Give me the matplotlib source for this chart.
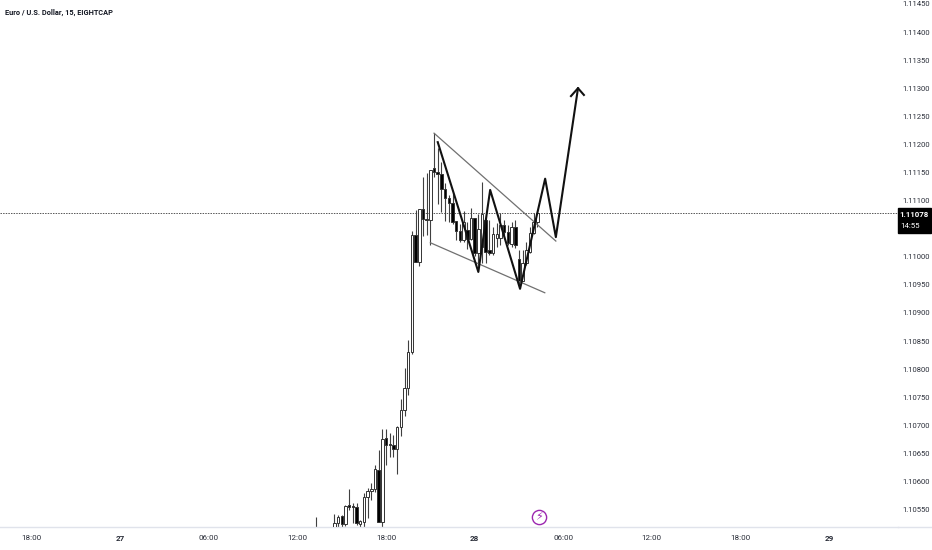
import matplotlib
matplotlib.use("Agg")
import matplotlib.pyplot as plt
import numpy as np

# candles (index = 15 min bars)
bars = [0, 5, 6, 7, 8, 9, 10, 11, 12, 13, 14, 15, 16, 17, 18, 19, 20, 21, 22, 23, 24, 25, 26, 27, 28, 29, 30,
        31, 32, 33, 34, 35, 36, 37, 38, 39, 40, 41, 42, 43, 44, 45, 46, 47, 48, 49, 50, 51, 52, 53, 54, 55, 56,
        57, 58, 59, 60]
opens = [1.10519, 1.10519, 1.10526, 1.10539, 1.10525, 1.10559, 1.10556, 1.10555, 1.10525, 1.10528, 1.10573,
         1.10583, 1.10587, 1.10621, 1.10528, 1.10678, 1.10666, 1.10665, 1.10658, 1.10697, 1.10728, 1.10767,
         1.10831, 1.11039, 1.10991, 1.11085, 1.11067, 1.11066, 1.11158, 1.11151, 1.11147, 1.11121, 1.11105,
         1.11096, 1.11064, 1.11046, 1.11030, 1.11048, 1.11032, 1.11069, 1.11007, 1.11018, 1.11066, 1.11012,
         1.11007, 1.11034, 1.11034, 1.11057, 1.11044, 1.11023, 1.11053, 1.10996, 1.10957, 1.10989, 1.11009,
         1.11043, 1.11062]
highs = [1.10537, 1.10543, 1.10541, 1.10541, 1.10559, 1.10587, 1.10562, 1.10562, 1.10532, 1.10580, 1.10589,
         1.10598, 1.10630, 1.10657, 1.10694, 1.10694, 1.10687, 1.10683, 1.10699, 1.10747, 1.10802, 1.10852,
         1.11046, 1.11083, 1.11085, 1.11142, 1.11149, 1.11155, 1.11220, 1.11194, 1.11169, 1.11131, 1.11110,
         1.11114, 1.11064, 1.11059, 1.11082, 1.11062, 1.11087, 1.11069, 1.11076, 1.11133, 1.11075, 1.11066,
         1.11053, 1.11060, 1.11078, 1.11066, 1.11057, 1.11062, 1.11066, 1.11012, 1.11012, 1.11026, 1.11053,
         1.11078, 1.11082]
lows = [1.10510, 1.10510, 1.10519, 1.10519, 1.10521, 1.10550, 1.10526, 1.10523, 1.10519, 1.10519, 1.10535,
        1.10567, 1.10582, 1.10528, 1.10519, 1.10630, 1.10644, 1.10644, 1.10614, 1.10681, 1.10717, 1.10754,
        1.10827, 1.10991, 1.10984, 1.11037, 1.11039, 1.11021, 1.11142, 1.11094, 1.11080, 1.11064, 1.11062,
        1.11059, 1.11030, 1.11027, 1.11027, 1.11014, 1.11030, 1.11002, 1.10986, 1.10989, 1.10989, 1.11003,
        1.11003, 1.11018, 1.11021, 1.11034, 1.11021, 1.11018, 1.11016, 1.10950, 1.10957, 1.10986, 1.11007,
        1.11041, 1.11053]
closes = [1.10519, 1.10526, 1.10537, 1.10525, 1.10557, 1.10555, 1.10555, 1.10526, 1.10530, 1.10573, 1.10583,
          1.10587, 1.10623, 1.10528, 1.10676, 1.10665, 1.10665, 1.10658, 1.10697, 1.10728, 1.10767, 1.10831,
          1.11039, 1.10991, 1.11085, 1.11067, 1.11066, 1.11155, 1.11151, 1.11147, 1.11121, 1.11105, 1.11096,
          1.11062, 1.11046, 1.11030, 1.11062, 1.11032, 1.11069, 1.11007, 1.11050, 1.11076, 1.11009, 1.11007,
          1.11041, 1.11041, 1.11057, 1.11044, 1.11025, 1.11053, 1.11021, 1.10957, 1.10989, 1.11012, 1.11043,
          1.11062, 1.11078]

# drawings on top of the candles
zigzag_x = [33, 44, 47.2, 55.3, 62.1, 65, 71]
zigzag_y = [1.11204, 1.10973, 1.11119, 1.10943, 1.11139, 1.11035, 1.11300]
arrow_x = [69.1, 71, 72.6]
arrow_y = [1.11286, 1.11300, 1.11288]
upper_x = [32, 65]
upper_y = [1.11220, 1.11028]
lower_x = [31, 62]
lower_y = [1.11025, 1.10936]

last_price = 1.11078
# 1.11050 sits behind the price tag, so it is left out
price_ticks = [1.11450, 1.11400, 1.11350, 1.11300, 1.11250, 1.11200, 1.11150, 1.11100, 1.11000,
               1.10950, 1.10900, 1.10850, 1.10800, 1.10750, 1.10700, 1.10650, 1.10600, 1.10550]
time_ticks = [-77, -53, -29, -5, 19, 43, 67, 91, 115, 139]
time_labels = ["18:00", "27", "06:00", "12:00", "18:00", "28", "06:00", "12:00", "18:00", "29"]

TEXT = "#2a2e39"


def main() -> None:
    plt.rcParams["font.family"] = ["Roboto", "DejaVu Sans"]

    fig = plt.figure(figsize=(9.32, 5.5), dpi=100)
    ax = fig.add_axes([0, 23.5 / 550, 898 / 932, 526.5 / 550])
    ax.set_xlim(-85.6, 157.7)
    ax.set_ylim(1.10520, 1.11457)

    x = np.array(bars)
    o, h, l, c = map(np.array, (opens, highs, lows, closes))
    up = c >= o

    ax.vlines(x, l, h, color="#404040", lw=0.8, zorder=2)
    ax.bar(x, np.abs(c - o), bottom=np.minimum(o, c), width=0.68,
           color=np.where(up, "white", "black"), edgecolor="#333333", linewidth=0.7, zorder=3)

    ax.axhline(last_price, color="#555555", lw=0.7, ls=(0, (1.5, 1.2)), zorder=1)

    ax.plot(upper_x, upper_y, color="#707070", lw=0.9, zorder=4)
    ax.plot(lower_x, lower_y, color="#707070", lw=0.9, zorder=4)
    ax.plot(zigzag_x, zigzag_y, color="#111111", lw=1.5, zorder=5)
    ax.plot(arrow_x, arrow_y, color="#111111", lw=1.5, zorder=5)

    # session break marker
    ax.scatter([60.3], [1.10537], s=105, facecolor="white", edgecolor="#9c27b0", linewidth=1.0, zorder=6)
    ax.text(60.3, 1.10537, "\u26a1", color="#9c27b0", fontsize=8, ha="center", va="center", zorder=7,
            family=["DejaVu Sans"])

    for side in ("top", "left", "right"):
        ax.spines[side].set_visible(False)
    ax.spines["bottom"].set_color("#e0e3eb")
    ax.spines["bottom"].set_linewidth(1.0)

    ax.set_xticks(time_ticks)
    ax.set_xticklabels(time_labels)
    ax.tick_params(axis="x", length=0, labelsize=5.8, labelcolor=TEXT, pad=6)
    for lab, txt in zip(ax.get_xticklabels(), time_labels):
        if ":" not in txt:
            lab.set_fontweight("bold")

    ax.yaxis.tick_right()
    ax.set_yticks(price_ticks)
    ax.set_yticklabels([f"{p:.5f}" for p in price_ticks])
    ax.tick_params(axis="y", length=0, labelsize=5.5, labelcolor=TEXT, pad=3)

    # bottom rule runs on under the price scale
    fig.add_artist(plt.Line2D([898 / 932, 1], [23.5 / 550, 23.5 / 550], color="#e0e3eb", lw=1.0))

    # price tag
    fig.patches.append(plt.Rectangle((898 / 932, (550 - 233) / 550), 33 / 932, 25 / 550, color="black",
                                     transform=fig.transFigure, figure=fig))
    fig.text(914 / 932, (550 - 214.5) / 550, "1.11078", color="white", fontsize=5.7, fontweight="bold",
             ha="center", va="center")
    fig.text(910 / 932, (550 - 226) / 550, "14:55", color="white", fontsize=5.7, ha="center", va="center")

    fig.text(5 / 932, (550 - 13) / 550, "Euro / U.S. Dollar, 15, EIGHTCAP", color="#131722", fontsize=5.3,
             fontweight="bold", ha="left", va="center")

    fig.savefig("out.png", dpi=100)
    plt.close(fig)


if __name__ == "__main__":
    main()
